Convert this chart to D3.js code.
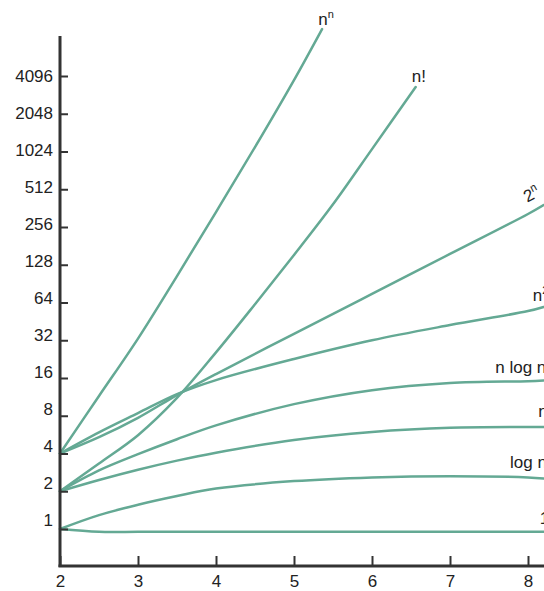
<!DOCTYPE html>
<html>
<head>
<meta charset="utf-8">
<script src="https://cdnjs.cloudflare.com/ajax/libs/d3/7.8.5/d3.min.js"></script>
<style>
  body { margin: 0; background: #fff; }
  svg { display: block; font-family: "Liberation Sans", Arial, sans-serif; }
</style>
</head>
<body>
<svg id="chart"></svg>
<script>
// values (the curves are drawn freehand-ish, not exact formulas)
var yTicks = [1, 2, 4, 8, 16, 32, 64, 128, 256, 512, 1024, 2048, 4096];
var xTicks = [2, 3, 4, 5, 6, 7, 8];

var nGrid   = [2, 2.5, 3, 3.5, 4, 5, 6, 7, 8, 8.2];
var oneV    = [1, 0.95, 0.95, 0.95, 0.95, 0.95, 0.95, 0.95, 0.95, 0.95];
var logV    = [1, 1.29, 1.56, 1.83, 2.1, 2.41, 2.58, 2.64, 2.58, 2.53];
var linV    = [2, 2.46, 2.97, 3.51, 4.06, 5.13, 5.94, 6.41, 6.5, 6.5];
var nlogV   = [2, 2.93, 3.95, 5.2, 6.7, 9.9, 12.8, 14.6, 15.1, 15.3];
var sqV     = [4, 5.9, 8.4, 11.9, 15.4, 22.7, 32, 42.3, 54.7, 59];
var expV    = [4, 5.4, 7.7, 11.7, 17.2, 36, 75, 156, 325, 383];

var factN   = [2, 2.5, 3, 3.5, 4, 4.5, 5, 5.5, 6, 6.56];
var factV   = [2, 3.33, 5.6, 11.1, 25.6, 62, 153, 388, 1070, 3350];

var powN    = [2, 2.5, 3, 3.5, 4, 4.5, 5, 5.36];
var powV    = [4, 11.5, 33, 104, 337, 1110, 3800, 9700];

var series = [
  { name: "1",       n: nGrid, v: oneV },
  { name: "log n",   n: nGrid, v: logV },
  { name: "n",       n: nGrid, v: linV },
  { name: "n log n", n: nGrid, v: nlogV },
  { name: "n2",      n: nGrid, v: sqV },
  { name: "2n",      n: nGrid, v: expV },
  { name: "n!",      n: factN, v: factV },
  { name: "nn",      n: powN,  v: powV }
];

// curve labels: position in data units (n, log2 of value)
var labelText = ["1", "log n", "n", "n log n", "n", "2", "n!", "n"];
var labelSup  = ["", "", "", "", "2", "n", "", "n"];
var labelN    = [8.15, 7.77, 8.13, 7.58, 8.06, 7.99, 6.51, 5.31];
var labelExp  = [0.13, 1.62, 2.97, 4.13, 6.04, 8.64, 11.84, 13.35];
var labelRot  = [0, 0, 0, 0, 0, -28, 0, 0];

var width = 544, height = 591;
var lineColor = "#64a994", axisColor = "#333";

var svg = d3.select("#chart").attr("width", width).attr("height", height);

var x = d3.scaleLinear().domain([2, 8]).range([60, 528]);
var y = d3.scaleLog().base(2).domain([1, 4096]).range([529, 76]);
var yLab = d3.scaleLog().base(2).domain([1, 4096]).range([520, 76]);

var line = d3.line()
  .x(function(d){ return x(d[0]); })
  .y(function(d){ return y(d[1]); })
  .curve(d3.curveCatmullRom.alpha(0.5));

svg.append("g").selectAll("path")
  .data(series)
  .enter()
  .append("path")
  .attr("d", function(s){ return line(s.n.map(function(n, i){ return [n, s.v[i]]; })); })
  .attr("fill", "none")
  .attr("stroke", lineColor)
  .attr("stroke-width", 2.5)
  .attr("stroke-linecap", "round");

// y axis
var yAxis = svg.append("g")
  .attr("transform", "translate(60,0)")
  .call(d3.axisLeft(y).tickValues(yTicks).tickFormat(d3.format("d"))
        .tickSizeInner(-8).tickSizeOuter(0).tickPadding(7));
yAxis.select(".domain").remove();
yAxis.selectAll(".tick line").attr("stroke", axisColor).attr("stroke-width", 2);
yAxis.selectAll(".tick text")
  .attr("y", function(d){ return yLab(d) - y(d); })
  .attr("fill", "#222")
  .style("font-size", "17px");

// x axis
var xAxis = svg.append("g")
  .attr("transform", "translate(0,566)")
  .call(d3.axisBottom(x).tickValues(xTicks).tickFormat(d3.format("d"))
        .tickSizeInner(-10).tickSizeOuter(0).tickPadding(9));
xAxis.select(".domain").remove();
xAxis.selectAll(".tick line").attr("stroke", axisColor).attr("stroke-width", 2);
xAxis.selectAll(".tick text").attr("fill", "#222").style("font-size", "17px");

svg.append("line")
  .attr("x1", 60).attr("x2", 60).attr("y1", 36).attr("y2", 567)
  .attr("stroke", axisColor).attr("stroke-width", 3);
svg.append("line")
  .attr("x1", 58.5).attr("x2", width).attr("y1", 566).attr("y2", 566)
  .attr("stroke", axisColor).attr("stroke-width", 3);

// curve labels (the right-hand ones run off the edge, as in the picture)
var labels = svg.append("g").selectAll("text")
  .data(labelText)
  .enter()
  .append("text")
  .attr("transform", function(d, i){
    return "translate(" + x(labelN[i]) + "," + y(Math.pow(2, labelExp[i])) + ") rotate(" + labelRot[i] + ")";
  })
  .attr("fill", "#222")
  .style("font-size", "17px");

labels.append("tspan").text(function(d){ return d; });
labels.append("tspan")
  .attr("dy", -7)
  .style("font-size", "11px")
  .text(function(d, i){ return labelSup[i]; });
</script>
</body>
</html>
